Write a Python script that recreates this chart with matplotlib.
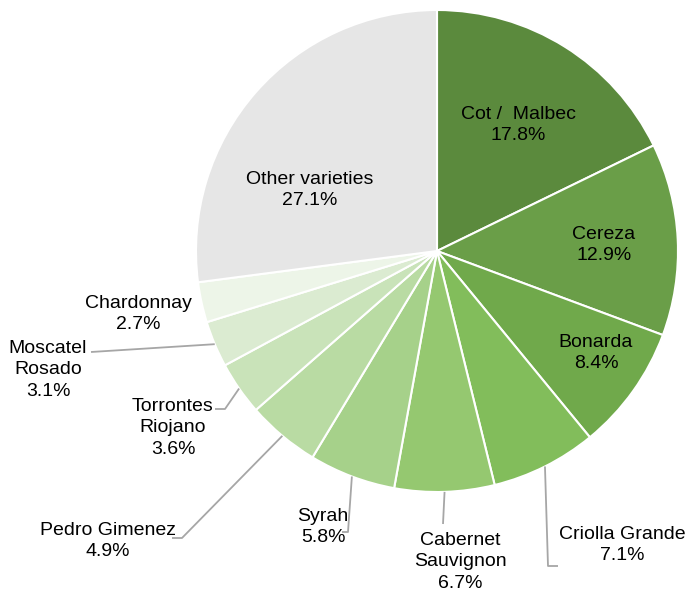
import matplotlib
matplotlib.use("Agg")
import matplotlib.pyplot as plt
import numpy as np

labels = ["Cot /  Malbec", "Cereza", "Bonarda", "Criolla Grande", "Cabernet\nSauvignon",
          "Syrah", "Pedro Gimenez", "Torrontes\nRiojano", "Moscatel\nRosado", "Chardonnay",
          "Other varieties"]
values = [17.8, 12.9, 8.4, 7.1, 6.7, 5.8, 4.9, 3.6, 3.1, 2.7, 27.1]
colors = ["#5B8A3D", "#6A9E48", "#70A94B", "#82BD5B", "#95C870", "#A6D18A",
          "#B9DBA3", "#C9E3B9", "#DBEBD1", "#EDF5E8", "#E6E6E6"]

W, H = 692, 601
fig = plt.figure(figsize=(W / 100, H / 100), dpi=100)
ax = fig.add_axes([0, 0, 1, 1])

cx, cy, R = 437, H - 251, 241
wedges, _ = ax.pie(values, colors=colors, startangle=90, counterclock=False,
                   center=(cx, cy), radius=R, frame=True,
                   wedgeprops=dict(edgecolor="white", linewidth=1.5))
ax.set_xlim(0, W)
ax.set_ylim(0, H)
ax.set_aspect("equal")
ax.axis("off")

font = dict(family=["Liberation Sans", "DejaVu Sans"],
            fontsize=14, color="black",
            ha="center", va="center", linespacing=1.32)

# label positions (pixel coords from top) and optional leader elbows
label_pos = [(518, 125), (604, 245), (596, 353), (622, 545), (460, 562),
             (323, 527), (108, 541), (173, 428), (48, 370), (138, 314), (310, 190)]
elbows = [None, None, None, [(548, 566), (558, 566)], [(443, 524)],
          [(348, 532), (342, 532)], [(182, 538), (172, 538)],
          [(225, 409), (215, 409)], [(91, 352)], None, None]

total = sum(values)
cum = 0
for lab, v, pos, el in zip(labels, values, label_pos, elbows):
    mid = (cum + v / 2) / total * 360
    cum += v
    pct = f"{v:.1f}%"
    ax.text(pos[0], H - pos[1], f"{lab}\n{pct}", **font)
    if el:
        sx = cx + R * np.sin(np.radians(mid))
        sy = cy + R * np.cos(np.radians(mid))
        xs = [sx] + [p[0] for p in el]
        ys = [sy] + [H - p[1] for p in el]
        ax.plot(xs, ys, color="#A6A6A6", lw=1.3, solid_capstyle="butt")

fig.savefig("out.png", dpi=100)
